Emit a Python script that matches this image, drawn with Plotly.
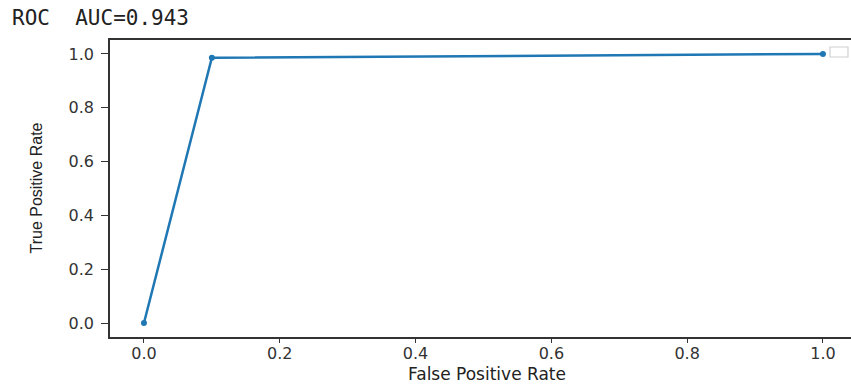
import plotly.graph_objects as go

# Data
fpr = [0.0, 0.1, 1.0]
tpr = [0.0, 0.986, 1.0]
auc_text = "ROC  AUC=0.943"
x_label = "False Positive Rate"
y_label = "True Positive Rate"
tick_vals = [0.0, 0.2, 0.4, 0.6, 0.8, 1.0]
tick_text = ["0.0", "0.2", "0.4", "0.6", "0.8", "1.0"]

W, H = 851, 385
ML, MR, MT, MB = 110, 0, 40, 48
plot_w = W - ML - MR
plot_h = H - MT - MB

fig = go.Figure()
fig.add_trace(go.Scatter(
    x=fpr, y=tpr, mode="lines+markers",
    line=dict(color="#1f77b4", width=2.5),
    marker=dict(color="#1f77b4", size=6),
    showlegend=False, hoverinfo="skip",
))

axis_common = dict(
    showgrid=False, zeroline=False,
    showline=True, linecolor="#333333", linewidth=1.5,
    ticks="outside", tickwidth=1.2, tickcolor="#333333",
    tickfont=dict(family="DejaVu Sans", size=16, color="#333333"),
    tickvals=tick_vals, ticktext=tick_text,
)

ppu = 679.0
x_lo = -0.05
x_hi = x_lo + plot_w / ppu

fig.update_layout(
    width=W, height=H,
    margin=dict(l=ML, r=MR, t=MT, b=MB, pad=0),
    paper_bgcolor="white", plot_bgcolor="white",
    title=dict(
        text=auc_text, x=12 / W, xanchor="left", xref="container",
        y=1 - 18 / H, yanchor="middle", yref="container",
        font=dict(family="DejaVu Sans Mono", size=21, color="#222222"),
    ),
    xaxis=dict(**axis_common, range=[x_lo, x_hi], mirror=True,
               ticklen=4, ticklabelstandoff=-3),
    yaxis=dict(**axis_common, range=[-0.052, 1.052], mirror=False,
               ticklen=7, ticklabelstandoff=4),
    annotations=[
        dict(text=x_label, xref="paper", yref="paper",
             x=(487 - ML) / plot_w, y=(H - MB - 374) / plot_h,
             xanchor="center", yanchor="middle", showarrow=False,
             font=dict(family="DejaVu Sans", size=17, color="#222222")),
        dict(text=y_label, xref="paper", yref="paper",
             x=(36 - ML) / plot_w, y=0.5, textangle=-90,
             xanchor="center", yanchor="middle", showarrow=False,
             font=dict(family="Liberation Sans", size=16, color="#222222")),
    ],
    shapes=[dict(
        type="rect", xref="paper", yref="paper",
        x0=(830 - ML) / plot_w, x1=(848 - ML) / plot_w,
        y0=(H - MB - 57) / plot_h, y1=(H - MB - 47) / plot_h,
        line=dict(color="#d0d0d0", width=1.2), fillcolor="white",
    )],
)

fig.write_html("out.html")
